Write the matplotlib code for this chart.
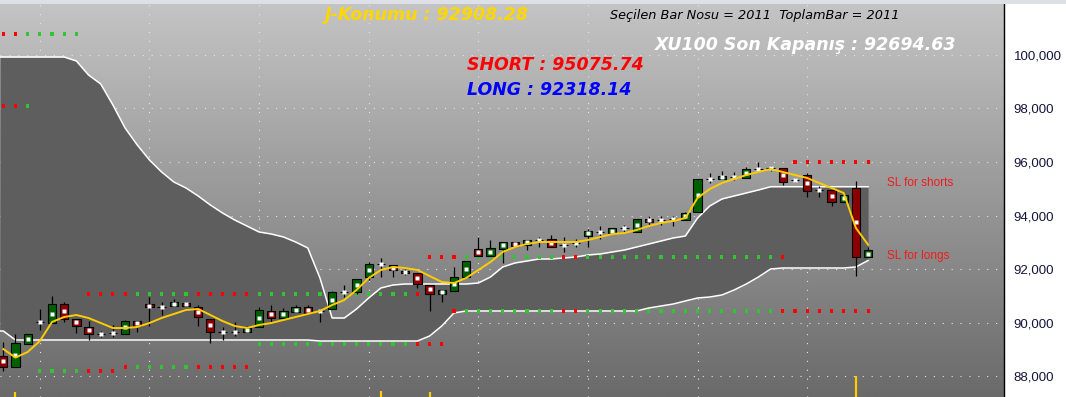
import numpy as np
import matplotlib
matplotlib.use('Agg')
import matplotlib.pyplot as plt
from matplotlib.colors import LinearSegmentedColormap
from matplotlib.patches import Rectangle

# XU100 bars (price units), oldest -> newest
opens = [88749, 88338, 89197, 90020, 89982, 90692, 90132, 89833, 89571, 89608,
         89571, 90057, 90692, 90580, 90618, 90730, 90580, 90132, 89646, 89646,
         89646, 89833, 90431, 90169, 90393, 90580, 90431, 90506, 91141, 91141,
         91702, 92188, 92150, 91926, 91851, 91403, 91066, 91178, 91702, 92748,
         92487, 92748, 93010, 92898, 93085, 93122, 92898, 92973, 93234, 93384,
         93346, 93533, 93384, 93870, 93832, 93870, 93832, 94131, 95365, 95365,
         95440, 95402, 95739, 95776, 95776, 95328, 95514, 94954, 94954, 94505,
         95029, 92449]
highs = [89272, 89571, 89571, 90506, 90992, 90767, 90132, 90057, 89683, 89908,
         90094, 90057, 90954, 90767, 90879, 90767, 90655, 90132, 89833, 90020,
         89870, 90580, 90655, 90543, 90655, 90655, 90506, 91178, 91403, 91627,
         92262, 92412, 92150, 92001, 91851, 91403, 91216, 92076, 92300, 93197,
         93085, 93010, 93010, 93085, 93197, 93272, 93197, 93122, 93496, 93608,
         93533, 93646, 93870, 93982, 93982, 93982, 94131, 95365, 95589, 95664,
         95627, 95813, 96000, 95851, 95776, 95402, 95589, 95103, 94954, 94767,
         95290, 92823]
lows = [88188, 88338, 89197, 89721, 89982, 90020, 89608, 89347, 89459, 89459,
        89571, 89646, 89870, 90281, 90618, 90618, 89870, 89235, 89347, 89496,
        89646, 89833, 90020, 90169, 90393, 90356, 90020, 90506, 90954, 91066,
        91590, 91702, 91702, 91777, 91291, 90431, 90767, 91178, 91702, 92487,
        92487, 92225, 92861, 92711, 92823, 92823, 92636, 92823, 92823, 93122,
        93346, 93384, 93384, 93646, 93646, 93608, 93832, 94131, 95215, 95365,
        95328, 95402, 95627, 95664, 95141, 95253, 94692, 94692, 94356, 94505,
        91739, 92449]
closes = [88338, 89235, 89571, 90020, 90692, 90132, 89870, 89571, 89571, 89608,
          90057, 89870, 90580, 90580, 90767, 90618, 90207, 89646, 89646, 89646,
          89795, 90468, 90169, 90431, 90580, 90356, 90431, 91141, 91141, 91627,
          92188, 92188, 91963, 91851, 91440, 91066, 91216, 91702, 92300, 92487,
          92786, 93010, 92861, 93085, 93085, 92823, 92898, 92973, 93421, 93384,
          93533, 93533, 93870, 93758, 93832, 93870, 94094, 95365, 95365, 95477,
          95440, 95739, 95739, 95776, 95253, 95328, 94916, 94954, 94505, 94767,
          92449, 92695]

# J-Konumu line
j_line = [89010, 88690, 88898, 89309, 90020, 90207, 90281, 90169, 89982, 89795,
          89795, 89833, 89982, 90169, 90319, 90468, 90506, 90281, 90057, 89870,
          89795, 89908, 89982, 90094, 90207, 90319, 90431, 90655, 90842, 91216,
          91664, 91963, 92076, 92038, 91963, 91739, 91515, 91477, 91664, 91963,
          92262, 92636, 92823, 92935, 93010, 93010, 93010, 93010, 93085, 93197,
          93309, 93346, 93459, 93608, 93720, 93795, 93907, 94655, 94991, 95215,
          95365, 95514, 95627, 95739, 95627, 95514, 95402, 95215, 95029, 94842,
          93533, 92908]

# channel (white lines, dark fill between)
band_up = ([99925] * 6 +
           [99776, 99252, 98916, 98131, 97271, 96636, 96075, 95627, 95253, 95029,
            94730, 94393, 94094, 93832, 93608, 93384, 93309, 93197, 93010, 92786,
            91664, 90169, 90169, 90506, 90917, 91291, 91403] +
           [91440] * 6 +
           [91477, 91702, 92076, 92225, 92300, 92375, 92375, 92412, 92449, 92524,
            92561, 92636, 92711, 92823, 92935, 93047, 93160, 93234, 93907, 94356,
            94617, 94730, 94842, 94954] +
           [95076] * 9)
band_lo = ([89683] + [89347] * 25 + [89309] * 9 + [89496, 89870, 90356] +
           [90431] * 15 +
           [90543, 90618, 90692, 90805, 90917, 90954, 91029, 91216, 91440, 91702,
            92001] +
           [92038] * 6 + [92076, 92318])

# stop levels (dotted squares) and bar state r/g
stop_hi = [100785] * 7 + [91066] * 28 + [92449] * 30 + [96000] * 7
stop_lo = [98094] * 3 + [88188] * 7 + [88338] * 11 + [89197] * 16 + [90431] * 35
state = 'rr' + 'g' * 5 + 'r' * 4 + 'g' * 5 + 'r' * 5 + 'g' * 13 + 'r' * 4 + \
        'g' * 8 + 'r' * 2 + 'g' * 16 + 'r' * 8

# lower-pane bars peeking in at the bottom
vol_idx = [1, 31, 35, 70]
vol_top = [87403, 87440, 87403, 88001]

grid_idx = [3, 12, 21, 30, 39, 48, 57, 66]
price_ticks = [88000, 90000, 92000, 94000, 96000, 98000, 100000]

XLIM = (-0.27, 82.16)
YLIM = (87216, 101906)

fig = plt.figure(figsize=(10.66, 3.97), dpi=100, facecolor='white')
ax = fig.add_axes([0, 0, 1004 / 1066, 393 / 397])
fig.patches.append(Rectangle((0, 393 / 397), 1, 4 / 397, transform=fig.transFigure,
                             facecolor='#dde1e7', edgecolor='none'))

bg = LinearSegmentedColormap.from_list('bg', ['#6a6a6a', '#c4c4c4'])
ax.imshow(np.linspace(0, 1, 256).reshape(-1, 1), cmap=bg, aspect='auto', origin='lower',
          extent=[XLIM[0], XLIM[1], YLIM[0], YLIM[1]], zorder=0)

dot = (0, (1, 7))
for p in price_ticks:
    ax.axhline(p, color='#e6e6e6', lw=0.8, ls=dot, zorder=1)
for g in grid_idx:
    ax.axvline(g, color='#e6e6e6', lw=0.8, ls=dot, zorder=1)

idx = np.arange(len(opens))
o, h, l, c = (np.array(a, dtype=float) for a in (opens, highs, lows, closes))

# channel, carried to the left edge of the plot
xx = np.concatenate([[XLIM[0]], idx])
up_ext = np.concatenate([[band_up[0]], band_up])
lo_ext = np.concatenate([[band_lo[0]], band_lo])
ax.fill_between(xx, lo_ext, up_ext, color='#5e5e5e', lw=0, zorder=2)
ax.plot(xx, up_ext, color='white', lw=1.1, zorder=3)
ax.plot(xx, lo_ext, color='white', lw=1.1, zorder=3)

cols = ['#ff0000' if s == 'r' else '#33c433' for s in state]
ax.scatter(idx, stop_hi, marker='s', s=5, c=cols, linewidths=0, zorder=3.5)
ax.scatter(idx, stop_lo, marker='s', s=5, c=cols, linewidths=0, zorder=3.5)

body = ['#006000' if cc > oo else '#8c0000' for oo, cc in zip(o, c)]
ax.vlines(idx, l, h, color='black', lw=0.9, zorder=4)
ax.bar(idx, c - o, bottom=o, width=0.68, color=body, edgecolor='black', lw=0.8, zorder=5)
ax.plot(idx, (o + c) / 2, 's', ms=2.9, color='white', mec='none', zorder=6)

ax.plot(idx, j_line, color='#ffcc00', lw=1.4, zorder=7)
ax.vlines(vol_idx, YLIM[0], vol_top, color='#ffcc00', lw=1.6, zorder=7)

ax.set_xlim(*XLIM)
ax.set_ylim(*YLIM)
ax.set_xticks([])
ax.yaxis.tick_right()
ax.set_yticks(price_ticks)
ax.set_yticklabels([f'{p:,}' for p in price_ticks], fontsize=9.5,
                   family='Liberation Sans', color='#14143c')
ax.tick_params(axis='y', length=0, pad=7)
for s in ('left', 'top', 'bottom'):
    ax.spines[s].set_visible(False)
ax.spines['right'].set_color('black')
ax.spines['right'].set_linewidth(1)

W, H = 1066, 397
def ftext(x, y, s, **kw):
    fig.text(x / W, 1 - y / H, s, ha='left', va='center', **kw)

big = dict(fontsize=12.5, fontweight='bold', fontstyle='italic')
ftext(325, 15, 'J-Konumu : 92908.28', color='#ffd700', **big)
ftext(610, 15, 'Seçilen Bar Nosu = 2011  ToplamBar = 2011', color='black',
      fontsize=9.3, fontstyle='italic')
ftext(655, 45, 'XU100 Son Kapanış : 92694.63', color='white', **big)
ftext(467, 65, 'SHORT : 95075.74', color='#ff0000', **big)
ftext(467, 90, 'LONG : 92318.14', color='#0000ff', **big)
ftext(887, 183, 'SL for shorts', color='#f01c1c', fontsize=8.5, family='Liberation Sans')
ftext(887, 256, 'SL for longs', color='#f01c1c', fontsize=8.5, family='Liberation Sans')

fig.savefig('out.png', dpi=100, facecolor='white')
